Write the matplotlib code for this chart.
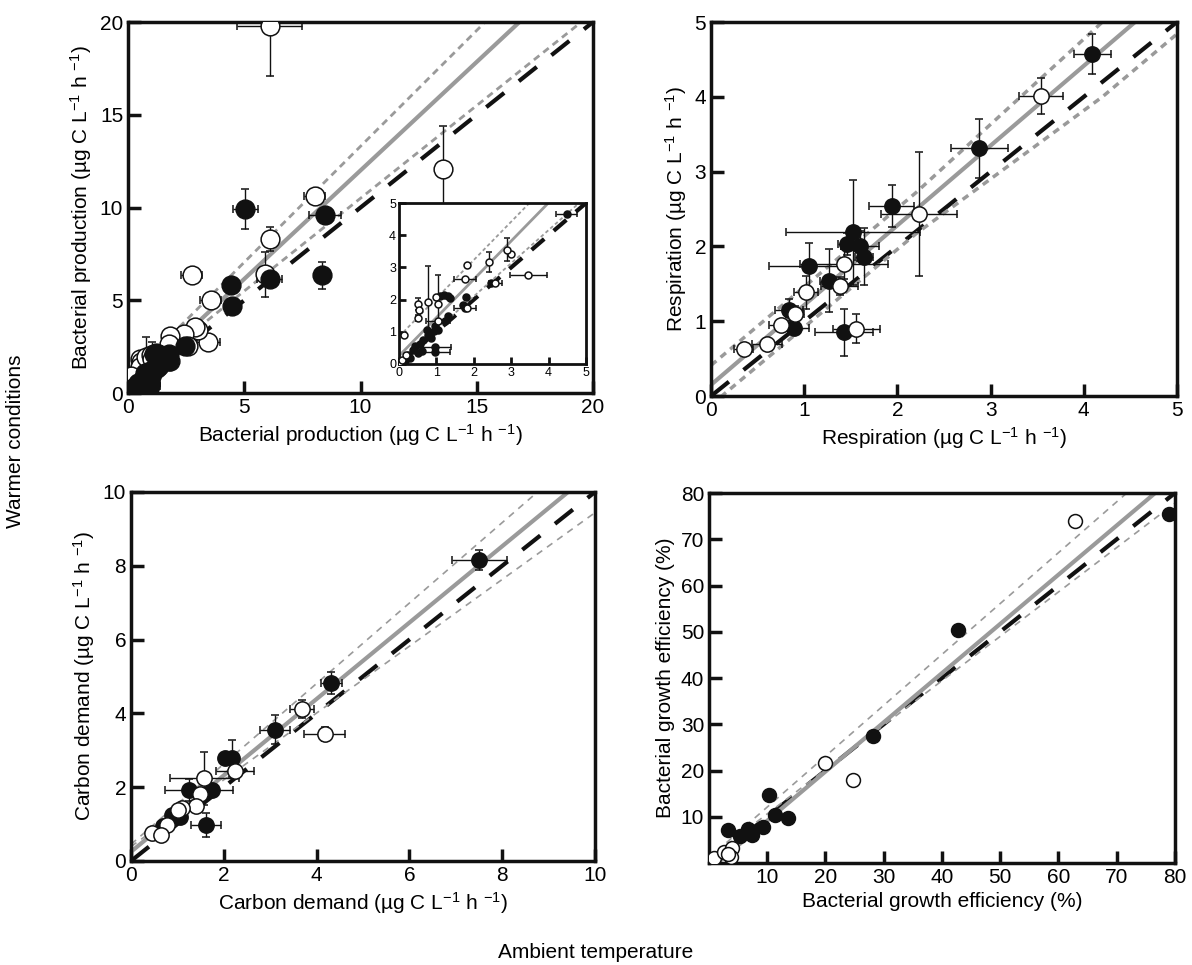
import numpy as np
import matplotlib.pyplot as plt

plt.rcParams['font.family'] = ['Liberation Sans', 'DejaVu Sans']
plt.rcParams['mathtext.default'] = 'regular'

# ---------------- datos ----------------
# produccion bacteriana (panel a + inset)
bp_open_x = [6.1, 13.55, 8.03, 6.12, 2.75, 5.88, 3.56, 3.46, 3.0, 2.88, 2.41, 1.81, 1.76, 2.58,
             1.81, 1.05, 0.5, 0.54, 0.5, 0.78, 1.0, 1.05, 0.14, 0.0, 0.09, 0.2]
bp_open_y = [19.8, 12.1, 10.6, 8.3, 6.35, 6.4, 5.0, 2.75, 3.42, 3.55, 3.17, 3.06, 2.65, 2.52,
             1.73, 1.35, 1.86, 1.69, 1.43, 1.93, 2.07, 1.86, 0.91, 0.0, 0.13, 0.29]
bp_open_xe = [1.4, 0, 0.45, 0, 0.45, 0, 0.45, 0.49, 0, 0, 0, 0, 0.3, 0.18,
              0, 0.32, 0, 0, 0, 0, 0, 0, 0, 0, 0, 0]
bp_open_ye = [2.7, 2.3, 0.3, 0.65, 0, 1.2, 0, 0, 0, 0.36, 0.3, 0, 0, 0,
              0, 0, 0.18, 0, 0.1, 1.1, 0, 0.9, 0, 0, 0, 0]

bp_fill_x = [5.05, 8.46, 8.34, 6.09, 4.42, 4.48, 2.46, 1.1, 1.2, 1.3, 1.36, 1.78, 1.72, 1.76,
             0.94, 0.78, 0.65, 0.74, 0.96, 0.43, 0.38, 0.25, 1.23, 1.32, 0.61, 0.96, 0.96,
             0.05, 0.15, 0.3, 0.5, 0.55, 0.85, 1.05]
bp_fill_y = [9.92, 9.6, 6.35, 6.13, 5.83, 4.67, 2.52, 2.1, 2.15, 2.1, 2.05, 2.08, 1.84, 1.73,
             1.01, 0.91, 0.76, 1.07, 1.17, 0.55, 0.45, 0.29, 1.33, 1.48, 0.39, 0.37, 0.52,
             0.03, 0.1, 0.18, 0.35, 0.62, 0.8, 1.05]
bp_fill_xe = [0.55, 0.69, 0.25, 0.53, 0, 0.27, 0, 0, 0, 0, 0, 0, 0, 0.3,
              0, 0, 0, 0, 0, 0, 0, 0, 0, 0, 0, 0.4, 0.43,
              0, 0, 0, 0, 0, 0, 0]
bp_fill_ye = [1.06, 0.2, 0.72, 0, 0, 0, 0, 0, 0, 0, 0, 0, 0, 0,
              0, 0, 0, 0, 0, 0, 0, 0, 0, 0, 0, 0, 0,
              0, 0, 0, 0, 0, 0, 0]

# respiracion
r_open_x = [3.54, 2.23, 1.43, 1.38, 1.02, 0.9, 0.75, 1.56, 0.6, 0.35]
r_open_y = [4.01, 2.43, 1.77, 1.47, 1.39, 1.1, 0.95, 0.9, 0.69, 0.63]
r_open_xe = [0.24, 0.41, 0.47, 0.2, 0.13, 0.1, 0.13, 0.25, 0.16, 0.1]
r_open_ye = [0.24, 0.83, 0.2, 0.12, 0.22, 0.1, 0.05, 0.19, 0.05, 0.05]
r_fill_x = [4.09, 2.88, 1.94, 1.52, 1.46, 1.6, 1.64, 1.05, 1.27, 0.84, 0.89, 1.43]
r_fill_y = [4.57, 3.31, 2.54, 2.19, 2.03, 2.01, 1.86, 1.74, 1.54, 1.15, 0.91, 0.85]
r_fill_xe = [0.2, 0.31, 0.24, 0.72, 0.1, 0.2, 0.1, 0.43, 0.1, 0.15, 0.16, 0.31]
r_fill_ye = [0.27, 0.39, 0.28, 0.7, 0.15, 0.2, 0.38, 0.3, 0.42, 0.15, 0.08, 0.31]

# demanda de carbono
cd_open_x = [3.68, 4.17, 2.24, 1.58, 1.49, 1.4, 1.09, 1.02, 0.78, 0.45, 0.64]
cd_open_y = [4.11, 3.44, 2.45, 2.24, 1.81, 1.49, 1.43, 1.38, 0.98, 0.76, 0.71]
cd_open_xe = [0.26, 0.45, 0.41, 0.75, 0, 0, 0, 0, 0, 0, 0]
cd_open_ye = [0.24, 0.2, 0, 0.72, 0, 0, 0, 0, 0, 0, 0]
cd_fill_x = [7.51, 4.32, 3.1, 2.03, 2.17, 1.24, 1.74, 0.88, 1.62, 1.05, 0.7]
cd_fill_y = [8.16, 4.83, 3.56, 2.78, 2.78, 1.93, 1.93, 1.25, 0.98, 1.2, 0.95]
cd_fill_xe = [0.6, 0.22, 0.33, 0, 0, 0.5, 0.46, 0, 0.33, 0, 0]
cd_fill_ye = [0.27, 0.3, 0.39, 0, 0.5, 0.3, 0, 0, 0.32, 0, 0]

# eficiencia de crecimiento bacteriano
bge_open_x = [62.9, 19.9, 24.8, 0.9, 2.5, 3.9, 3.7, 3.2]
bge_open_y = [73.9, 21.7, 17.9, 1.1, 2.3, 3.3, 1.3, 2.0]
bge_fill_x = [79.0, 42.8, 28.2, 10.3, 11.3, 13.5, 9.3, 3.3, 5.3, 6.75, 7.3]
bge_fill_y = [75.5, 50.3, 27.4, 14.8, 10.4, 9.8, 7.85, 7.1, 5.8, 7.3, 6.0]

# rectas de regresion (intercepto, pendiente) y bandas
bp_fit = (0.3, 1.17)
bp_ci_x = [2.2, 20]
bp_up = [0.8 + 1.25 * 2.2, 0.8 + 1.25 * 20]
bp_lo_x = [2.6, 20]
bp_lo = [3.1, 20.5]
ins_fit = (0.25, 1.19)
ins_up = (0.85, 1.19)
ins_lo = (0.04, 1.03)
r_fit = (0.15, 1.066)
r_ci_x = [0, 2.2, 4.2, 5]
r_up = [0.41, 2.72, 5.0, 5.9]
r_lo = [-0.12, 2.17, 4.0, 4.84]
cd_fit = (0.25, 1.035)
cd_ci_x = [0, 10]
cd_up = [0.45, 11.35]
cd_lo = [0.39, 9.44]
bge_fit = (-1.5, 1.064)
bge_ci_x = [3, 80]
bge_up = [4.4, 89.1]
bge_lo = [3.9, 77.8]

unit = '(µg C L$^{-1}$ h $^{-1}$)'
gray = '#9a9a9a'
ink = '#111111'


def lines(ax, lim, fit, ci_x, up, lo, ci_lw, ci_dash, lo_x=None):
    x = np.array([0, lim])
    ax.plot(x, x, color=ink, lw=3, dashes=(5.5, 4.5), zorder=2)
    ax.plot(ci_x, up, color=gray, lw=ci_lw, dashes=ci_dash, zorder=2)
    ax.plot(ci_x if lo_x is None else lo_x, lo, color=gray, lw=ci_lw, dashes=ci_dash, zorder=2)
    ax.plot(x, fit[0] + fit[1] * x, color=gray, lw=3, zorder=2)


def points(ax, ox, oy, fx, fy, ms, oxe=None, oye=None, fxe=None, fye=None, cap=3,
           filled_top=False):
    groups = [(fx, fy, fxe, fye, ink), (ox, oy, oxe, oye, 'white')]
    if filled_top:
        groups = groups[::-1]
    for xs, ys, xe, ye, fc in groups:
        ax.errorbar(xs, ys, xerr=xe, yerr=ye, fmt='o', ms=ms, mfc=fc, mec=ink,
                    mew=1.1, ecolor=ink, elinewidth=1, capsize=cap, capthick=1, zorder=3)


def style(ax, lim, ticks, size=15, w=2.5):
    ax.set_xlim(0, lim)
    ax.set_ylim(0, lim)
    ax.set_xticks(ticks)
    ax.set_yticks(ticks)
    ax.tick_params(direction='in', length=9, width=w, labelsize=size, color=ink)
    for s in ax.spines.values():
        s.set_linewidth(w)
        s.set_color(ink)


def subset(x, y, xe, ye, lim):
    keep = [i for i in range(len(x)) if x[i] < lim and y[i] < lim]
    return ([x[i] for i in keep], [y[i] for i in keep],
            [xe[i] for i in keep], [ye[i] for i in keep])


fig = plt.figure(figsize=(11.92, 9.65), dpi=100)

# panel a
ax1 = fig.add_axes([0.1074, 0.5927, 0.3901, 0.3845])
lines(ax1, 20, bp_fit, bp_ci_x, bp_up, bp_lo, 2, (2.5, 1.8), lo_x=bp_lo_x)
points(ax1, bp_open_x, bp_open_y, bp_fill_x, bp_fill_y, 13.5,
       bp_open_xe, bp_open_ye, bp_fill_xe, bp_fill_ye, filled_top=True)
style(ax1, 20, [0, 5, 10, 15, 20])
ax1.set_xlabel('Bacterial production ' + unit, fontsize=15)
ax1.set_ylabel('Bacterial production ' + unit, fontsize=15)

# inset
ins = fig.add_axes([0.3347, 0.6228, 0.1569, 0.1668])
x = np.array([0, 5])
ins.plot(x, x, color=ink, lw=3, dashes=(4, 3), zorder=2)
ins.plot(x, ins_lo[0] + ins_lo[1] * x, color=gray, lw=1.3, dashes=(2, 1.5), zorder=2)
ins.plot(x, ins_up[0] + ins_up[1] * x, color=gray, lw=1.3, dashes=(2, 1.5), zorder=2)
ins.plot(x, ins_fit[0] + ins_fit[1] * x, color=gray, lw=2, zorder=2)
ox, oy, oxe, oye = subset(bp_open_x, bp_open_y, bp_open_xe, bp_open_ye, 5)
fx, fy, fxe, fye = subset(bp_fill_x, bp_fill_y, bp_fill_xe, bp_fill_ye, 5)
points(ins, ox, oy, fx, fy, 5, oxe, oye, fxe, fye, cap=2)
style(ins, 5, [0, 1, 2, 3, 4, 5], size=9, w=2)
ins.tick_params(length=5, pad=2)

# panel b
ax2 = fig.add_axes([0.5965, 0.5896, 0.3909, 0.3876])
lines(ax2, 5, r_fit, r_ci_x, r_up, r_lo, 2.5, (2, 1.6))
points(ax2, r_open_x, r_open_y, r_fill_x, r_fill_y, 11,
       r_open_xe, r_open_ye, r_fill_xe, r_fill_ye)
style(ax2, 5, [0, 1, 2, 3, 4, 5])
ax2.set_xlabel('Respiration ' + unit, fontsize=15)
ax2.set_ylabel('Respiration ' + unit, fontsize=15)

# panel c
ax3 = fig.add_axes([0.1099, 0.1078, 0.3893, 0.3824])
lines(ax3, 10, cd_fit, cd_ci_x, cd_up, cd_lo, 1.2, (4, 3.5))
points(ax3, cd_open_x, cd_open_y, cd_fill_x, cd_fill_y, 11,
       cd_open_xe, cd_open_ye, cd_fill_xe, cd_fill_ye)
style(ax3, 10, [0, 2, 4, 6, 8, 10])
ax3.set_xlabel('Carbon demand ' + unit, fontsize=15)
ax3.set_ylabel('Carbon demand ' + unit, fontsize=15)

# panel d
ax4 = fig.add_axes([0.5948, 0.1057, 0.3909, 0.3834])
lines(ax4, 80, bge_fit, bge_ci_x, bge_up, bge_lo, 1.2, (4, 3.5))
points(ax4, bge_open_x, bge_open_y, bge_fill_x, bge_fill_y, 10)
style(ax4, 80, [10, 20, 30, 40, 50, 60, 70, 80])
ax4.set_xlabel('Bacterial growth efficiency (%)', fontsize=15)
ax4.set_ylabel('Bacterial growth efficiency (%)', fontsize=15)

fig.text(0.013, 0.543, 'Warmer conditions', rotation=90, ha='center', va='center', fontsize=15)
fig.text(0.5, 0.013, 'Ambient temperature', ha='center', va='center', fontsize=15)

fig.savefig('out.png', dpi=100)
